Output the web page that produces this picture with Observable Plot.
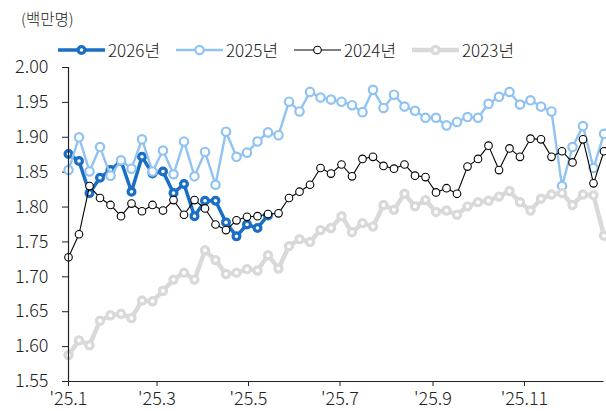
<!DOCTYPE html>
<html>
<head>
<meta charset="utf-8">
<script src="https://cdn.jsdelivr.net/npm/d3@7"></script>
<script src="https://cdn.jsdelivr.net/npm/@observablehq/plot@0.6"></script>
<style>
  html, body { margin: 0; padding: 0; background: #fff; }
  body { width: 606px; height: 411px; overflow: hidden; font-family: "Noto Sans CJK KR", "Noto Sans", sans-serif; font-weight: 300; color: #222; }
  #head { position: relative; height: 60px; }
  #unit { position: absolute; left: 21px; top: 8px; font-size: 15.5px; line-height: 20px; }
  #legend { position: absolute; left: 58px; top: 40px; display: flex; }
  .item { display: flex; align-items: center; width: 118px; font-size: 17px; line-height: 20px; }
  .item svg { margin-right: 3px; }
  #chart svg text { font-weight: 300; }
</style>
</head>
<body>
<div id="head"><div id="unit">(백만명)</div><div id="legend"></div></div>
<div id="chart"></div>
<script>
// ---- data ----
const seriesNames = ["2026년", "2025년", "2024년", "2023년"];
const v2026 = [1.876,1.866,1.820,1.842,1.853,1.866,1.822,1.872,1.848,1.851,1.820,1.833,1.787,1.809,1.809,1.778,1.758,1.775,1.770,1.788];
const v2025 = [1.853,1.900,1.851,1.886,1.845,1.867,1.855,1.897,1.851,1.881,1.847,1.894,1.844,1.879,1.832,
               1.908,1.872,1.878,1.894,1.907,1.903,1.951,1.937,1.965,1.957,
               1.954,1.951,1.946,1.936,1.968,1.942,1.961,1.944,1.938,1.928,
               1.928,1.917,1.922,1.929,1.928,1.948,1.958,1.965,1.947,1.953,
               1.944,1.937,1.830,1.886,1.916,1.856,1.905];
const v2024 = [1.728,1.761,1.830,1.813,1.803,1.787,1.805,1.794,1.803,1.795,1.810,1.789,1.810,1.798,1.775,1.767,1.781,1.786,1.787,1.790,1.791,1.813,1.822,1.832,1.856,
               1.848,1.861,1.844,1.869,1.872,1.859,1.855,1.861,1.845,1.843,1.821,1.827,1.819,1.858,1.869,1.888,1.853,1.884,1.872,1.898,1.897,1.872,1.880,1.864,1.897,1.834,1.880];
const v2023 = [1.588,1.609,1.602,1.637,1.645,1.647,1.641,1.666,1.665,1.680,1.696,1.706,1.696,1.738,1.724,1.704,1.706,1.711,1.709,1.731,1.712,1.744,1.754,1.750,1.767,
               1.770,1.787,1.764,1.777,1.772,1.803,1.796,1.819,1.801,1.810,1.793,1.795,1.789,1.801,1.807,1.809,1.815,1.823,1.807,1.795,1.812,1.818,1.820,1.803,1.818,1.817,1.759];
const xTickLabels = ["'25.1", "'25.3", "'25.5", "'25.7", "'25.9", "'25.11"];
const xTickMonths = [0, 2, 4, 6, 8, 10];
const yTicks = [1.55, 1.60, 1.65, 1.70, 1.75, 1.80, 1.85, 1.90, 1.95, 2.00];

// weekly x positions (week i of 2025)
const start = new Date(Date.UTC(2025, 0, 1));
const week = i => d3.utcDay.offset(start, 7 * i);
const xTicks = xTickMonths.map(m => new Date(Date.UTC(2025, m, 1)));

const styles = {
  "2026년": {color: "#1a6fc4", lw: 3.5, r: 3.4, sw: 3.2},
  "2025년": {color: "#90c3f2", lw: 2.4, r: 4.2, sw: 2.2},
  "2024년": {color: "#000000", lw: 1.1, r: 3.8, sw: 1.1},
  "2023년": {color: "#d9d9d9", lw: 4.5, r: 3.6, sw: 3.2}
};
const valuesBy = {"2026년": v2026, "2025년": v2025, "2024년": v2024, "2023년": v2023};

const marks = [];
for (const name of seriesNames) {
  const s = styles[name];
  const data = valuesBy[name].map((v, i) => ({date: week(i), value: v}));
  marks.push(Plot.line(data, {x: "date", y: "value", stroke: s.color, strokeWidth: s.lw, strokeLinejoin: "round"}));
  marks.push(Plot.dot(data, {x: "date", y: "value", r: s.r, fill: "white", stroke: s.color, strokeWidth: s.sw}));
}

const chart = Plot.plot({
  width: 606,
  height: 351,
  marginTop: 7,
  marginBottom: 30,
  marginLeft: 68,
  marginRight: 2.5,
  style: {fontFamily: '"Noto Sans CJK KR", "Noto Sans", sans-serif', fontSize: "18px", color: "#222", background: "white", overflow: "visible"},
  x: {type: "utc", domain: [week(0), week(51)]},
  y: {domain: [1.55, 2.00]},
  marks: [
    Plot.axisY({ticks: yTicks, tickFormat: d => d.toFixed(2), tickSize: 6, tickPadding: 14, label: null, stroke: "#222", fill: "#222", fontSize: 18}),
    Plot.axisX({ticks: xTicks, tickFormat: (d, i) => xTickLabels[i], tickSize: 5, tickPadding: 6, label: null, stroke: "#222", fill: "#222", fontSize: 18}),
    ...marks,
    Plot.ruleY([1.55], {stroke: "#222", strokeWidth: 1.2}),
    Plot.ruleX([week(0)], {stroke: "#222", strokeWidth: 1.2})
  ]
});
document.getElementById("chart").appendChild(chart);

// legend
const legend = document.getElementById("legend");
for (const name of seriesNames) {
  const s = styles[name];
  const item = document.createElement("div");
  item.className = "item";
  item.innerHTML = `<svg width="47" height="14" viewBox="0 0 47 14"><line x1="0" x2="47" y1="7" y2="7" stroke="${s.color}" stroke-width="${s.lw}"/><circle cx="23.5" cy="7" r="${s.r}" fill="white" stroke="${s.color}" stroke-width="${s.sw}"/></svg><span>${name}</span>`;
  legend.appendChild(item);
}
</script>
</body>
</html>
